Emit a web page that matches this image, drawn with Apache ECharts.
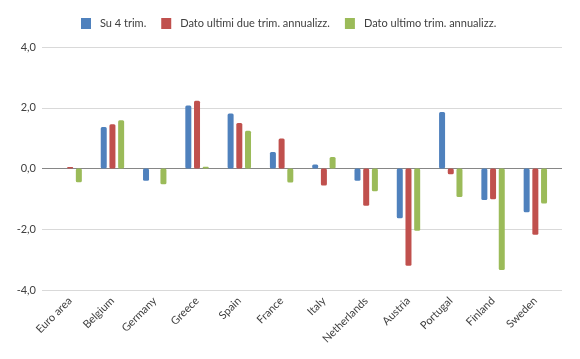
<!DOCTYPE html>
<html>
<head>
<meta charset="utf-8">
<script src="https://cdn.jsdelivr.net/npm/echarts@6/dist/echarts.min.js"></script>
<style>html,body{margin:0;padding:0;background:#fff}#c{width:580px;height:359px}</style>
</head>
<body>
<div id="c"></div>
<script>
const categories = ['Euro area','Belgium','Germany','Greece','Spain','France','Italy','Netherlands','Austria','Portugal','Finland','Sweden'];
const su4Trim = [0, 1.37, -0.40, 2.07, 1.81, 0.54, 0.13, -0.40, -1.64, 1.86, -1.04, -1.44];
const ultimiDue = [0.05, 1.46, 0, 2.23, 1.50, 0.99, -0.56, -1.23, -3.20, -0.19, -1.01, -2.18];
const ultimo = [-0.45, 1.59, -0.52, 0.06, 1.24, -0.46, 0.38, -0.75, -2.05, -0.94, -3.34, -1.15];
const seriesNames = ['Su 4 trim.', 'Dato ultimi due trim. annualizz.', 'Dato ultimo trim. annualizz.'];
const colors = ['#4F81BD', '#C0504D', '#9BBB59'];
const yMin = -4, yMax = 4, yStep = 2;

const chart = echarts.init(document.getElementById('c'));
const font = 'Lato, "Open Sans", sans-serif';
function bar(name, data, i) {
  return {
    name: name, type: 'bar', data: data, xAxisIndex: 1, yAxisIndex: 1,
    barWidth: 6, barGap: '45%',
    itemStyle: { color: colors[i], borderRadius: 1.5 }
  };
}
chart.setOption({
  animation: false,
  color: colors,
  legend: {
    top: 18, left: 81, padding: 0, itemWidth: 10, itemHeight: 11, itemGap: 15,
    icon: 'rect',
    textStyle: { fontFamily: font, fontSize: 11, color: '#404040', padding: [0, 0, 0, 4] },
    data: seriesNames
  },
  grid: [
    { left: 42, right: 18, top: 47, bottom: 69 },
    { left: 49, right: 23.5, top: 47, bottom: 69 }
  ],
  xAxis: [
    { gridIndex: 0, type: 'value', show: false, min: 0, max: 1 },
    { gridIndex: 1, type: 'category', data: categories,
      axisLine: { show: false }, axisTick: { show: false },
      axisLabel: { rotate: 45, interval: 0, margin: 9, fontFamily: font, fontSize: 11, color: '#404040' } }
  ],
  yAxis: [
    { gridIndex: 0, type: 'value', min: yMin, max: yMax, interval: yStep,
      axisLine: { show: false }, axisTick: { show: false },
      axisLabel: { margin: 6, fontFamily: font, fontSize: 11, color: '#404040',
        formatter: v => v.toFixed(1).replace('.', ',') },
      splitLine: { lineStyle: { width: 1, color: ['#d9d9d9', '#d9d9d9', '#868686', '#d9d9d9', '#d9d9d9'] } } },
    { gridIndex: 1, type: 'value', min: yMin, max: yMax, interval: yStep, show: false, splitLine: { show: false } }
  ],
  series: [
    bar(seriesNames[0], su4Trim, 0),
    bar(seriesNames[1], ultimiDue, 1),
    bar(seriesNames[2], ultimo, 2)
  ]
});
</script>
</body>
</html>
